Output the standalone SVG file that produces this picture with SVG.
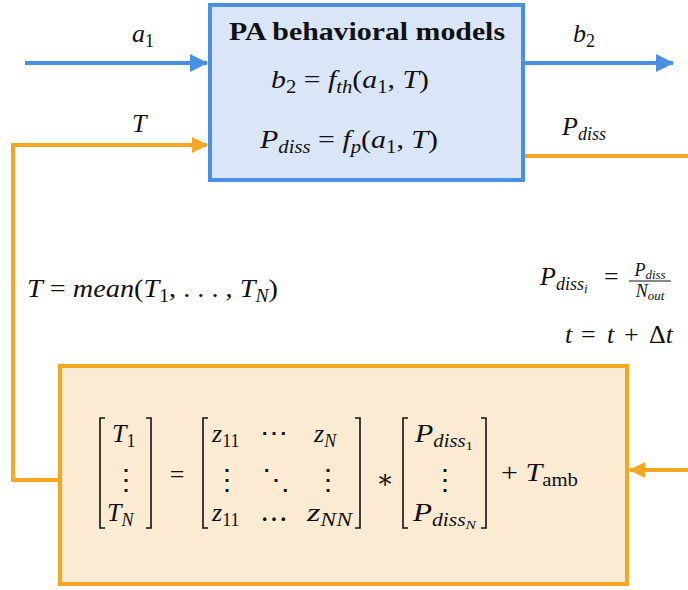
<svg xmlns="http://www.w3.org/2000/svg" width="688" height="590" viewBox="0 0 688 590">
<style>
.m{font-family:"Liberation Serif","DejaVu Serif",serif;font-style:italic;font-size:26px;fill:#111}
.r{font-style:normal}
.s{font-size:18px}
.ss{font-size:13px}
.f{font-size:18px}
.fs{font-size:13px}
.t{font-family:"Liberation Serif","DejaVu Serif",serif;font-weight:bold;font-size:26px;fill:#111}
.dots{font-family:"DejaVu Serif",serif;font-size:28px;fill:#111}
.blue{stroke:#4a90e2;stroke-width:4;fill:none}
.orange{stroke:#f5a623;stroke-width:4;fill:none}
.br{stroke:#111;stroke-width:1.6;fill:none}
</style>
<defs>
<marker id="ab" viewBox="0 0 18 18" refX="17" refY="9" markerWidth="18" markerHeight="18" markerUnits="userSpaceOnUse" orient="auto"><path d="M0,0 L18,9 L0,18 Z" fill="#4a90e2"/></marker>
<marker id="ao" viewBox="0 0 16 16" refX="15" refY="8" markerWidth="16" markerHeight="16" markerUnits="userSpaceOnUse" orient="auto"><path d="M0,0 L16,8 L0,16 Z" fill="#f5a623"/></marker>
</defs>
<g id="connectors">
<path class="blue" d="M25,63 H207" marker-end="url(#ab)"/>
<path class="blue" d="M524,63 H673" marker-end="url(#ab)"/>
<path class="orange" d="M59,480 H13 V145 H207" marker-end="url(#ao)"/>
<path class="orange" d="M524,156 H688"/>
<path class="orange" d="M688,470 H630" marker-end="url(#ao)"/>
</g>
<g id="pa-model">
<rect x="210" y="5" width="313" height="175" fill="#dae6f7" stroke="#4a90e2" stroke-width="4"/>
<text class="t" x="367" y="40" text-anchor="middle" textLength="276" lengthAdjust="spacingAndGlyphs">PA behavioral models</text>
<text class="m" x="271" y="88" textLength="158" lengthAdjust="spacingAndGlyphs">b<tspan class="s r" dy="5">2</tspan><tspan class="r" dy="-5"> = </tspan>f<tspan class="s" dy="5">th</tspan><tspan class="r" dy="-5">(</tspan>a<tspan class="s r" dy="5">1</tspan><tspan class="r" dy="-5">, </tspan>T<tspan class="r">)</tspan></text>
<text class="m" x="260" y="148" textLength="178" lengthAdjust="spacingAndGlyphs">P<tspan class="s" dy="5">diss</tspan><tspan class="r" dy="-5"> = </tspan>f<tspan class="s" dy="5">p</tspan><tspan class="r" dy="-5">(</tspan>a<tspan class="s r" dy="5">1</tspan><tspan class="r" dy="-5">, </tspan>T<tspan class="r">)</tspan></text>
</g>
<g id="labels">
<text class="m" x="132" y="42">a<tspan class="s r" dy="5">1</tspan></text>
<text class="m" x="132" y="132">T</text>
<text class="m" x="573" y="42">b<tspan class="s r" dy="5">2</tspan></text>
<text class="m" x="562" y="135">P<tspan class="s" dy="5">diss</tspan></text>
<text class="m" x="27" y="297" textLength="251" lengthAdjust="spacingAndGlyphs">T<tspan class="r"> = </tspan>mean<tspan class="r">(</tspan>T<tspan class="s r" dy="5">1</tspan><tspan class="r" dy="-5">, . . . , </tspan>T<tspan class="s" dy="5">N</tspan><tspan class="r" dy="-5">)</tspan></text>
<text class="m" x="540" y="285">P<tspan class="s" dy="5">diss</tspan><tspan class="ss" dy="3">i</tspan><tspan class="r" x="604" dy="-8">=</tspan></text>
<text class="m f" x="650" y="276" text-anchor="middle">P<tspan class="fs" dy="3">diss</tspan></text>
<line x1="629" y1="281" x2="671" y2="281" stroke="#111" stroke-width="1"/>
<text class="m f" x="650" y="297" text-anchor="middle">N<tspan class="fs" dy="3">out</tspan></text>
<text class="m" x="565" y="343">t<tspan class="r" x="581">=</tspan><tspan x="607">t</tspan><tspan class="r" x="624">+</tspan><tspan class="r" x="649">Δ</tspan>t</text>
</g>
<g id="thermal-model">
<rect x="60" y="366" width="567" height="218" fill="#fbebd3" stroke="#f5a623" stroke-width="4"/>
<path class="br" d="M105,418 H100 V528 H105"/>
<path class="br" d="M146,418 H151 V528 H146"/>
<path class="br" d="M208,418 H203 V528 H208"/>
<path class="br" d="M355,418 H360 V528 H355"/>
<path class="br" d="M408,418 H403 V528 H408"/>
<path class="br" d="M481,418 H486 V528 H481"/>
<text class="m" x="112" y="442">T<tspan class="s r" dy="5">1</tspan></text>
<text class="dots" x="126" y="489" text-anchor="middle">⋮</text>
<text class="m" x="107" y="521">T<tspan class="s" dy="5">N</tspan></text>
<text class="m r" x="177" y="483" text-anchor="middle" font-size="30">=</text>
<text class="m" x="212" y="442">z<tspan class="s r" dy="5">11</tspan></text>
<text class="dots" x="274" y="442" text-anchor="middle">⋯</text>
<text class="m" x="314" y="442">z<tspan class="s" dy="5">N</tspan></text>
<text class="dots" x="227" y="489" text-anchor="middle">⋮</text>
<text class="dots" x="276" y="489" text-anchor="middle">⋱</text>
<text class="dots" x="328" y="489" text-anchor="middle">⋮</text>
<text class="m" x="212" y="521">z<tspan class="s r" dy="5">11</tspan></text>
<text class="dots" x="274" y="521" text-anchor="middle">…</text>
<text class="m" x="307" y="521" textLength="45" lengthAdjust="spacingAndGlyphs">z<tspan class="s" dy="5">NN</tspan></text>
<text class="m r" x="385" y="488" text-anchor="middle">∗</text>
<text class="m" x="415" y="442" textLength="58" lengthAdjust="spacingAndGlyphs">P<tspan class="s" dy="5">diss</tspan><tspan class="ss r" dy="3">1</tspan></text>
<text class="dots" x="445" y="489" text-anchor="middle">⋮</text>
<text class="m" x="413" y="521" textLength="63" lengthAdjust="spacingAndGlyphs">P<tspan class="s" dy="5">diss</tspan><tspan class="ss" dy="3">N</tspan></text>
<text class="m" x="501" y="481" textLength="77" lengthAdjust="spacingAndGlyphs"><tspan class="r">+ </tspan>T<tspan class="s r" dy="5">amb</tspan></text>
</g>
</svg>
